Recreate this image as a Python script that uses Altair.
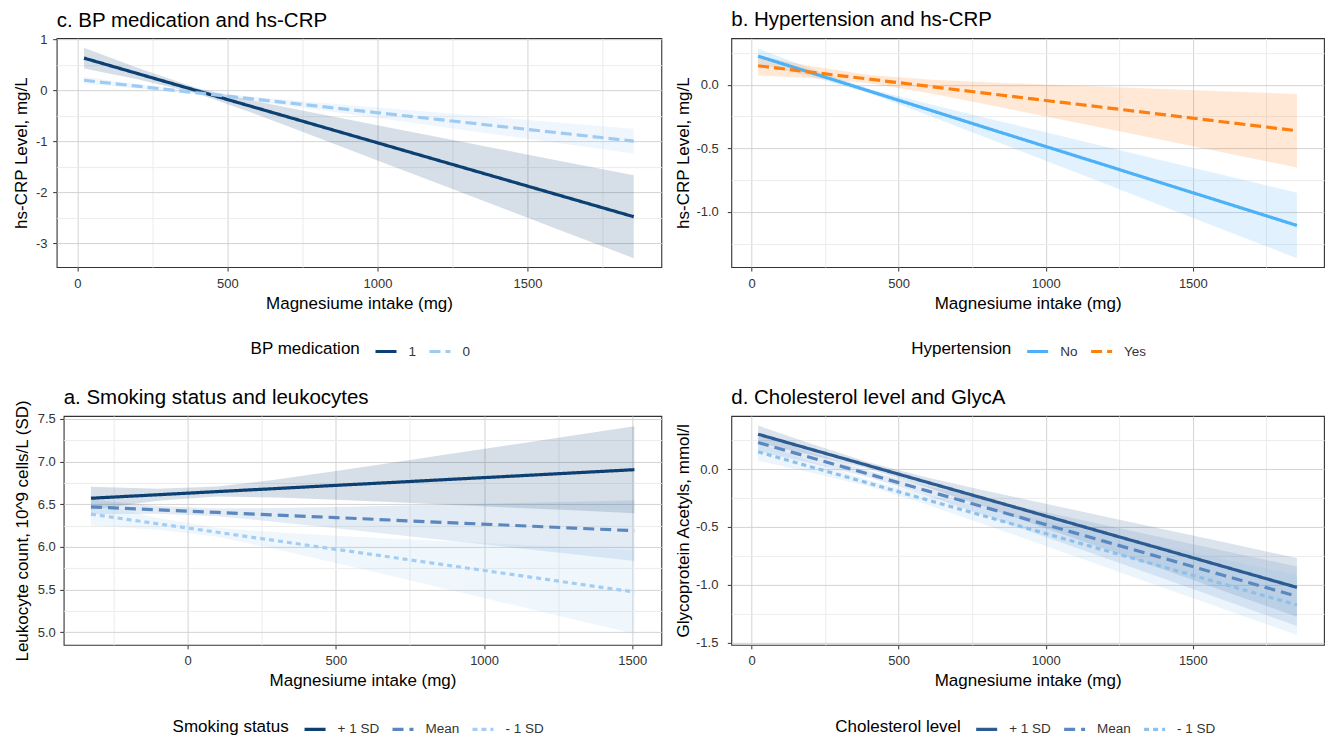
import altair as alt
import pandas as pd

FONT = "Liberation Sans"

# ---------------- data ----------------
# x positions (mg) where the fitted lines / ribbons were read
X_MG = [22, 200, 400, 600, 800, 1000, 1200, 1400, 1600, 1854]
X_A = [-326, -100, 100, 300, 500, 700, 900, 1100, 1300, 1507]

# c. BP medication and hs-CRP
C_GROUPS = ["1", "0"]
C1_FIT = [0.630, 0.328, -0.011, -0.350, -0.689, -1.028, -1.367, -1.706, -2.045, -2.475]
C1_LO = [0.427, 0.217, -0.062, -0.481, -0.925, -1.373, -1.821, -2.269, -2.718, -3.287]
C1_HI = [0.833, 0.439, 0.040, -0.219, -0.453, -0.683, -0.913, -1.143, -1.372, -1.663]
C0_FIT = [0.196, 0.080, -0.050, -0.180, -0.310, -0.440, -0.570, -0.700, -0.830, -0.995]
C0_LO = [0.127, 0.036, -0.080, -0.225, -0.383, -0.543, -0.705, -0.868, -1.030, -1.237]
C0_HI = [0.265, 0.125, -0.020, -0.135, -0.238, -0.337, -0.435, -0.532, -0.630, -0.753]

# b. Hypertension and hs-CRP
B_GROUPS = ["No", "Yes"]
BN_FIT = [0.226, 0.097, -0.049, -0.194, -0.340, -0.485, -0.630, -0.776, -0.921, -1.106]
BN_LO = [0.166, 0.065, -0.067, -0.239, -0.418, -0.597, -0.776, -0.956, -1.136, -1.364]
BN_HI = [0.286, 0.129, -0.030, -0.149, -0.262, -0.373, -0.484, -0.596, -0.707, -0.848]
BY_FIT = [0.150, 0.100, 0.045, -0.011, -0.067, -0.123, -0.178, -0.234, -0.290, -0.361]
BY_LO = [0.073, 0.053, 0.012, -0.064, -0.155, -0.248, -0.341, -0.436, -0.530, -0.650]
BY_HI = [0.227, 0.148, 0.077, 0.043, 0.021, 0.002, -0.015, -0.033, -0.050, -0.072]

# a. Smoking status and leukocytes
SD_GROUPS = ["+ 1 SD", "Mean", "- 1 SD"]
AP_FIT = [6.570, 6.611, 6.648, 6.684, 6.721, 6.757, 6.794, 6.830, 6.867, 6.905]
AP_LO = [6.435, 6.540, 6.589, 6.578, 6.552, 6.522, 6.491, 6.459, 6.428, 6.395]
AP_HI = [6.705, 6.682, 6.707, 6.790, 6.890, 6.992, 7.097, 7.201, 7.306, 7.415]
AM_FIT = [6.469, 6.434, 6.404, 6.373, 6.343, 6.312, 6.281, 6.251, 6.220, 6.189]
AM_LO = [6.383, 6.388, 6.358, 6.292, 6.219, 6.143, 6.066, 5.989, 5.912, 5.833]
AM_HI = [6.555, 6.480, 6.450, 6.454, 6.467, 6.481, 6.496, 6.513, 6.528, 6.545]
AL_FIT = [6.383, 6.270, 6.171, 6.071, 5.971, 5.872, 5.772, 5.673, 5.573, 5.470]
AL_LO = [6.250, 6.201, 6.117, 5.972, 5.811, 5.648, 5.482, 5.317, 5.151, 4.980]
AL_HI = [6.516, 6.339, 6.224, 6.170, 6.131, 6.096, 6.062, 6.028, 5.995, 5.960]

# d. Cholesterol level and GlycA
DP_FIT = [0.302, 0.173, 0.029, -0.116, -0.260, -0.405, -0.550, -0.694, -0.839, -1.023]
DP_LO = [0.227, 0.125, 0.001, -0.158, -0.333, -0.511, -0.690, -0.869, -1.049, -1.277]
DP_HI = [0.377, 0.221, 0.057, -0.074, -0.188, -0.299, -0.410, -0.519, -0.629, -0.769]
DM_FIT = [0.230, 0.101, -0.044, -0.190, -0.335, -0.480, -0.625, -0.770, -0.916, -1.100]
DM_LO = [0.154, 0.053, -0.072, -0.233, -0.408, -0.587, -0.767, -0.947, -1.128, -1.357]
DM_HI = [0.306, 0.149, -0.016, -0.148, -0.262, -0.373, -0.483, -0.593, -0.704, -0.843]
DL_FIT = [0.150, 0.021, -0.123, -0.268, -0.412, -0.557, -0.702, -0.846, -0.991, -1.175]
DL_LO = [0.073, -0.028, -0.151, -0.311, -0.486, -0.665, -0.845, -1.025, -1.205, -1.435]
DL_HI = [0.227, 0.070, -0.095, -0.225, -0.338, -0.449, -0.559, -0.667, -0.777, -0.916]

# axis ticks
X_MAJOR = [0, 500, 1000, 1500]
X_MINOR_TOP = [250, 750, 1250, 1750]
X_MINOR_A = [-250, 250, 750, 1250]
C_Y_MAJOR = [-3, -2, -1, 0, 1]
C_Y_MINOR = [-2.5, -1.5, -0.5, 0.5]
B_Y_MAJOR = [-1.0, -0.5, 0.0]
B_Y_MINOR = [-1.25, -0.75, -0.25, 0.25]
A_Y_MAJOR = [5.0, 5.5, 6.0, 6.5, 7.0, 7.5]
A_Y_MINOR = [5.25, 5.75, 6.25, 6.75, 7.25]
D_Y_MAJOR = [-1.5, -1.0, -0.5, 0.0]
D_Y_MINOR = [-1.25, -0.75, -0.25, 0.25]

MAJ_GRID = "#d3d3d3"
MIN_GRID = "#ececec"


def table(xs, groups, fits, los, his):
    rows = []
    for g, f, l, h in zip(groups, fits, los, his):
        for x, fv, lv, hv in zip(xs, f, l, h):
            rows.append({"x": x, "g": g, "fit": fv, "lo": lv, "hi": hv})
    return pd.DataFrame(rows)


def cond(major, major_val, minor_val):
    return {"condition": {"test": f"indexof({major}, datum.value) < 0", "value": minor_val},
            "value": major_val}


def panel(df, title, ytitle, legend_title, groups, colors, dashes,
          xdom, ydom, xmaj, xmin, ymaj, ymin, yfmt, yext, ylabpad, legx, w, h, toff):
    xaxis = alt.Axis(
        values=sorted(xmaj + xmin), title="Magnesiume intake (mg)",
        labelExpr=f"indexof({xmaj}, datum.value) >= 0 ? format(datum.value, 'd') : ''",
        gridColor=cond(xmaj, MAJ_GRID, MIN_GRID), tickOpacity=cond(xmaj, 1, 0),
        tickSize=4, labelPadding=6, titlePadding=5, minExtent=23, maxExtent=23,
        labelFlush=False, labelOverlap=False,
    )
    yaxis = alt.Axis(
        values=sorted(ymaj + ymin), title=ytitle,
        labelExpr=(f"indexof({ymaj}, datum.value) >= 0 ? "
                   f"replace(format(datum.value, '{yfmt}'), '\u2212', '-') : ''"),
        gridColor=cond(ymaj, MAJ_GRID, MIN_GRID), tickOpacity=cond(ymaj, 1, 0),
        tickSize=4, labelPadding=ylabpad, titlePadding=0, minExtent=yext, maxExtent=yext,
        labelFlush=False, labelOverlap=False,
    )
    xs = alt.Scale(domain=xdom, nice=False, zero=False)
    ys = alt.Scale(domain=ydom, nice=False, zero=False)
    leg = alt.Legend(
        title=legend_title, orient="none", legendX=legx, legendY=301,
        direction="horizontal", titleOrient="left", titleBaseline="middle",
        titleAnchor="middle",
        symbolType="stroke", symbolSize=441, symbolStrokeWidth=3.2, symbolOpacity=1,
        labelFontSize=13.5, titleFontSize=17, labelOffset=10, columnPadding=6,
        titlePadding=13, padding=0, titleFontWeight="normal", titleColor="black",
        labelColor="#333333", labelFont=FONT, titleFont=FONT,
    )
    base = alt.Chart(df)
    # ribbon fill scale: same colours, domain listed in reverse so that it is not
    # merged with (and does not disable) the line legend
    band = base.mark_area(opacity=0.17).encode(
        x=alt.X("x:Q", scale=xs, axis=xaxis),
        y=alt.Y("lo:Q", scale=ys, axis=yaxis),
        y2="hi:Q",
        fill=alt.Fill("g:N", scale=alt.Scale(domain=groups[::-1], range=colors[::-1]),
                      legend=None),
    )
    line = base.mark_line(strokeWidth=3.2).encode(
        x=alt.X("x:Q", scale=xs, axis=xaxis),
        y=alt.Y("fit:Q", scale=ys, axis=yaxis),
        stroke=alt.Stroke("g:N", scale=alt.Scale(domain=groups, range=colors), legend=leg),
        strokeDash=alt.StrokeDash("g:N", scale=alt.Scale(domain=groups, range=dashes), legend=leg),
    )
    return alt.layer(band, line).properties(
        width=w, height=h,
        title=alt.TitleParams(title, anchor="start", frame="group", fontSize=20.5,
                              fontWeight="normal", color="black", offset=toff, font=FONT),
    )


def spacer(w):
    # empty white layout cell that sets the left indent of a row
    return alt.Chart(pd.DataFrame({"s": [0]})).mark_rect(color="white").encode(
        x=alt.value(0), x2=alt.value(w), y=alt.value(0), y2=alt.value(1)
    ).properties(width=w, height=1, view=alt.ViewBackground(stroke="transparent"))


TOP_X = [-69, 1946]
A_X = [-418, 1598]

c = panel(table(X_MG, C_GROUPS, [C1_FIT, C0_FIT], [C1_LO, C0_LO], [C1_HI, C0_HI]),
          "c. BP medication and hs-CRP", "hs-CRP Level, mg/L", "BP medication",
          C_GROUPS, ["#0c3f72", "#9ecbf2"], [[1, 0], [11, 5]],
          TOP_X, [-3.46, 1.02], X_MAJOR, X_MINOR_TOP, C_Y_MAJOR, C_Y_MINOR, "d",
          26, 5.7, 194, 605, 229, 1.7)

b = panel(table(X_MG, B_GROUPS, [BN_FIT, BY_FIT], [BN_LO, BY_LO], [BN_HI, BY_HI]),
          "b. Hypertension and hs-CRP", "hs-CRP Level, mg/L", "Hypertension",
          B_GROUPS, ["#4cb1f7", "#fe7f0e"], [[1, 0], [11, 5]],
          TOP_X, [-1.433, 0.367], X_MAJOR, X_MINOR_TOP, B_Y_MAJOR, B_Y_MINOR, ".1f",
          38.5, 9, 180, 593, 229, 7.2)

a = panel(table(X_A, SD_GROUPS, [AP_FIT, AM_FIT, AL_FIT], [AP_LO, AM_LO, AL_LO], [AP_HI, AM_HI, AL_HI]),
          "a. Smoking status and leukocytes", "Leukocyte count,  10^9 cells/L (SD)", "Smoking status",
          SD_GROUPS, ["#0c3f72", "#5a87bd", "#a3cdf4"], [[1, 0], [11, 6], [5, 4]],
          A_X, [4.85, 7.535], X_MAJOR, X_MINOR_A, A_Y_MAJOR, A_Y_MINOR, ".1f",
          32.5, 4.4, 109, 598, 229, -11.8)

d = panel(table(X_MG, SD_GROUPS, [DP_FIT, DM_FIT, DL_FIT], [DP_LO, DM_LO, DL_LO], [DP_HI, DM_HI, DL_HI]),
          "d. Cholesterol level and GlycA", "Glycoprotein Acetyls, mmol/l", "Cholesterol level",
          SD_GROUPS, ["#2b5b90", "#5a88c0", "#8ec0ec"], [[1, 0], [11, 6], [5, 4]],
          TOP_X, [-1.52, 0.46], X_MAJOR, X_MINOR_TOP, D_Y_MAJOR, D_Y_MINOR, ".1f",
          38.5, 9.4, 104, 593, 229, 7.2)

IND = dict(x="independent", y="independent", stroke="independent",
           strokeDash="independent", fill="independent")
IND_L = dict(stroke="independent", strokeDash="independent", fill="independent")

row1 = (alt.hconcat(spacer(1), c, b, spacing=70, bounds="flush")
        .resolve_scale(**IND).resolve_legend(**IND_L))
row2 = (alt.hconcat(spacer(8), a, d, spacing=70, bounds="flush")
        .resolve_scale(**IND).resolve_legend(**IND_L))

chart = (
    alt.vconcat(row1, row2, spacing=28)
    .resolve_scale(**IND).resolve_legend(**IND_L)
    .properties(padding={"left": -23.3, "top": 1, "right": 0, "bottom": 0})
    .configure(font=FONT)
    .configure_view(stroke="#333333", strokeWidth=1.1)
    .configure_axis(domain=False, labelFont=FONT, labelFontSize=13, labelColor="#333333",
                    titleFont=FONT, titleFontSize=17, titleFontWeight="normal",
                    titleColor="black", tickColor="#333333", tickWidth=1, gridWidth=1)
)

chart.save("out.html", embed_options={"renderer": "svg", "actions": False})
